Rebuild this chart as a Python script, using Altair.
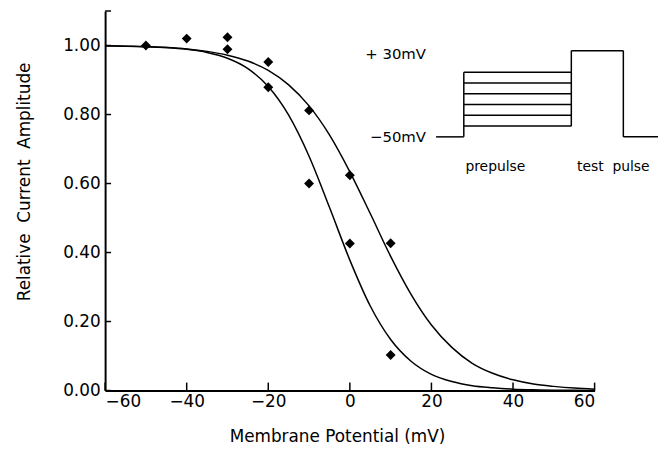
import altair as alt
import pandas as pd

# ---- measured data points (membrane potential mV, relative amplitude) ----
pt_v = [-50, -40, -30, -30, -20, -20, -10, -10, 0, 0, 10, 10]
pt_amp = [1.00, 1.02, 1.024, 0.989, 0.952, 0.879, 0.812, 0.600, 0.624, 0.426, 0.427, 0.103]

# ---- fitted curves every 5 mV ----
curve_v = [-60, -55, -50, -45, -40, -35, -30, -25, -20, -15, -10, -5, 0,
           5, 10, 15, 20, 25, 30, 35, 40, 45, 50, 55, 60]
curve_left = [0.999, 0.998, 0.997, 0.994, 0.989, 0.980, 0.963, 0.933, 0.881, 0.798,
              0.679, 0.531, 0.378, 0.245, 0.148, 0.085, 0.047, 0.026, 0.014, 0.008,
              0.004, 0.002, 0.001, 0.001, 0.000]
curve_right = [0.999, 0.998, 0.996, 0.994, 0.990, 0.983, 0.972, 0.955, 0.928, 0.886,
               0.825, 0.741, 0.634, 0.513, 0.389, 0.279, 0.190, 0.125, 0.079, 0.050,
               0.031, 0.019, 0.012, 0.007, 0.004]

x_ticks = [-60, -40, -20, 0, 20, 40, 60]
y_ticks = [0.0, 0.2, 0.4, 0.6, 0.8, 1.0]

# ---- inset protocol (time in arbitrary units, voltage in mV) ----
inset_times = [0, 8, 39, 54, 64]      # start, prepulse on, test on, test off, end
hold_mv = -50
test_mv = 30
prepulse_levels = [-40, -30, -20, -10, 0, 10]

W, H = 494, 383
xs = alt.Scale(domain=[-60, 60], nice=False, zero=False)
ys = alt.Scale(domain=[0, 1.1], nice=False, zero=False)

curves = pd.DataFrame({
    "v": curve_v * 2,
    "amp": curve_left + curve_right,
    "curve": ["left"] * len(curve_v) + ["right"] * len(curve_v),
})
points = pd.DataFrame({"v": pt_v, "amp": pt_amp})

line_layer = alt.Chart(curves).mark_line(
    color="black", strokeWidth=1.5, interpolate="monotone"
).encode(
    x=alt.X("v:Q", scale=xs, axis=alt.Axis(
        values=x_ticks, title="Membrane Potential (mV)", labelPadding=3,
        titleX=234, titleY=46, titleBaseline="middle")),
    y=alt.Y("amp:Q", scale=ys, axis=alt.Axis(
        values=y_ticks, format=".2f", title="Relative\u00a0\u00a0Current\u00a0\u00a0Amplitude",
        labelPadding=5, titleX=-81, titleY=172, titleBaseline="middle")),
    detail="curve:N",
)

point_layer = alt.Chart(points).mark_point(
    shape="diamond", filled=True, size=100, color="black", opacity=1
).encode(x=alt.X("v:Q", scale=xs), y=alt.Y("amp:Q", scale=ys))

xtick_layer = alt.Chart(pd.DataFrame({"v": x_ticks})).mark_rule(
    color="black", strokeWidth=1.5
).encode(x=alt.X("v:Q", scale=xs), y=alt.value(H), y2=alt.value(H - 8))

ytick_layer = alt.Chart(pd.DataFrame({"amp": y_ticks + [1.1]})).mark_rule(
    color="black", strokeWidth=1.5
).encode(y=alt.Y("amp:Q", scale=ys), x=alt.value(0), x2=alt.value(6))

main = alt.layer(line_layer, point_layer, xtick_layer, ytick_layer)

# inset segments built from the protocol arrays
t0, t_on, t_test, t_off, t_end = inset_times
segs = [
    (t0, t_on, hold_mv, hold_mv),
    (t_on, t_on, hold_mv, max(prepulse_levels)),
    (t_test, t_test, min(prepulse_levels), test_mv),
    (t_test, t_off, test_mv, test_mv),
    (t_off, t_off, test_mv, hold_mv),
    (t_off, t_end, hold_mv, hold_mv),
] + [(t_on, t_test, lv, lv) for lv in prepulse_levels]
seg_df = pd.DataFrame(segs, columns=["t", "t2", "mv", "mv2"])

ts = alt.Scale(domain=[0, 64], range=[334, 558])
vs = alt.Scale(domain=[-50, 30], range=[127, 40])

inset_lines = alt.Chart(seg_df).mark_rule(color="black", strokeWidth=1.5).encode(
    x=alt.X("t:Q", scale=ts, axis=None), x2="t2:Q",
    y=alt.Y("mv:Q", scale=vs, axis=None), y2="mv2:Q",
)

label_df = pd.DataFrame({
    "t": [-2.9, -2.9],
    "mv": [27, -50],
    "label": ["+ 30mV", "\u221250mV"],
})
inset_mv_text = alt.Chart(label_df).mark_text(
    align="right", baseline="middle", font="DejaVu Sans", fontSize=15, color="black"
).encode(x=alt.X("t:Q", scale=ts, axis=None), y=alt.Y("mv:Q", scale=vs, axis=None), text="label:N")

phase_df = pd.DataFrame({
    "t": [17.1, 51.1],
    "mv": [-77.6, -77.6],
    "label": ["prepulse", "test\u00a0\u00a0pulse"],
})
inset_phase_text = alt.Chart(phase_df).mark_text(
    align="center", baseline="middle", font="DejaVu Sans", fontSize=14, color="black"
).encode(x=alt.X("t:Q", scale=ts, axis=None), y=alt.Y("mv:Q", scale=vs, axis=None), text="label:N")

inset = alt.layer(inset_lines, inset_mv_text, inset_phase_text)

chart = alt.layer(main, inset).resolve_scale(x="independent", y="independent").properties(
    width=W, height=H,
    autosize=alt.AutoSizeParams(type="none"),
    padding={"left": 98, "top": 1, "right": 66, "bottom": 60},
).configure_view(stroke=None).configure_axis(
    domainColor="black", domainWidth=2, ticks=False, grid=False,
    labelFont="DejaVu Sans", labelFontSize=17, labelColor="black",
    titleFont="DejaVu Sans", titleFontSize=17, titleFontWeight="normal", titleColor="black",
)

chart.save("out.html", embed_options={"renderer": "svg", "actions": False})
